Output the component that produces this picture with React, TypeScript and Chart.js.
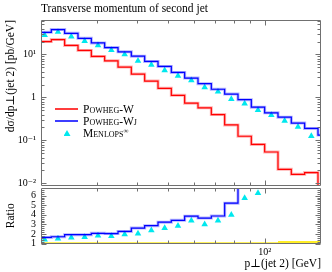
import React, { useEffect, useRef } from 'react';
import { Chart, registerables } from 'chart.js';

Chart.register(...registerables);

// ---- data ----
const BIN_EDGES = [19.57, 21.54, 23.71, 26.1, 28.73, 31.62, 34.81, 38.31, 42.17, 46.42, 51.09, 56.23, 61.9, 68.13, 74.99, 82.54, 90.85, 100.0, 110.07, 121.15, 133.35, 146.78, 161.56];
const POWHEG_W = [20.0, 22.2, 16.2, 12.4, 9.0, 7.11, 5.08, 3.5, 2.41, 1.63, 1.12, 0.734, 0.572, 0.4, 0.23, 0.125, 0.0807, 0.0538, 0.0213, 0.0163, 0.0179, 0];
const POWHEG_WJ = [32.8, 37.9, 31.1, 23.8, 18.6, 14.5, 11.5, 9.14, 6.89, 5.27, 3.83, 2.83, 2.09, 1.55, 1.2, 0.889, 0.593, 0.438, 0.348, 0.253, 0.19, 0.133];
const MENLOPS = [28.4, 33.4, 26.1, 20.6, 16.4, 12.6, 10.0, 7.11, 5.74, 4.26, 3.2, 2.5, 1.72, 1.36, 0.92, 0.718, 0.506, 0.387, 0.286, 0.208, 0.126, 0.1];
const POWHEG_W_RELERR = [0.12, 0.12, 0.12, 0.12, 0.12, 0.12, 0.12, 0.12, 0.12, 0.12, 0.12, 0.12, 0.12, 0.12, 0.12, 0.12, 0.12, 0.12, 0.27, 0.27, 0.27, 0.27];

const Y_TICKS = [0.01, 0.1, 1, 10];
const Y_TICK_LABELS = ['10\u207B\u00B2', '10\u207B\u00B9', '1', '10\u00B9'];
const RATIO_TICKS = [1, 2, 3, 4, 5, 6];
const RATIO_TICK_LABELS = ['1', '2', '3', '4', '5', '6'];
const X_TICKS = [100];
const X_TICK_LABELS = ['10\u00B2'];
const X_MINOR_TICKS = [20, 30, 40, 50, 60, 70, 80, 90];

const TITLE = 'Transverse momentum of second jet';
const Y_TITLE = 'd\u03C3/dp\u22A5(jet 2) [pb/GeV]';
const X_TITLE = 'p\u22A5(jet 2) [GeV]';
const RATIO_TITLE = 'Ratio';

const X_MIN = 20;
const X_MAX = 150;
const Y_MIN = 0.0087;
const Y_MAX = 63.4;
const R_MIN = 1;
const R_MAX = 6.8;

const W = 332;
const H = 272;
const FONT = "'Liberation Serif', 'DejaVu Serif', serif";
const FRAME = '#707070';
const RED = '#ff0000';
const BLUE = '#0000ff';
const CYAN = '#00e8ee';

// ---- helpers to build chart tables ----
function stepPoints(values: (number | null)[], floor = 0) {
  const pts: { x: number; y: number | null }[] = [];
  values.forEach((v, i) => {
    const y = v === null ? null : v > floor ? v : floor > 0 ? floor : v;
    pts.push({ x: BIN_EDGES[i], y });
    pts.push({ x: BIN_EDGES[i + 1], y });
  });
  return pts;
}
function centerPoints(values: (number | null)[]) {
  return values.map((v, i) => ({ x: Math.sqrt(BIN_EDGES[i] * BIN_EDGES[i + 1]), y: v }));
}
const ratio = (num: number[]) => num.map((v, i) => (POWHEG_W[i] > 0 ? v / POWHEG_W[i] : null));

function framePlugin(yMajor: number[], yMinor: number[]) {
  return {
    id: 'frameTicks',
    afterDatasetsDraw(chart: any) {
      const { ctx, chartArea: a } = chart;
      const xs = chart.scales.x;
      const ys = chart.scales.y;
      const L = Math.round(a.left) + 0.5;
      const R = Math.round(a.right) - 0.5;
      const T = Math.round(a.top) + 0.5;
      const B = Math.round(a.bottom) - 0.5;
      ctx.save();
      ctx.strokeStyle = FRAME;
      ctx.lineWidth = 1;
      ctx.beginPath();
      ctx.rect(L, T, R - L, B - T);
      const seg = (x1: number, y1: number, x2: number, y2: number) => {
        ctx.moveTo(x1, y1);
        ctx.lineTo(x2, y2);
      };
      X_MINOR_TICKS.forEach((v) => {
        const x = Math.round(xs.getPixelForValue(v)) + 0.5;
        if (x <= L + 1 || x >= R - 1) return;
        seg(x, T, x, T + 3);
        seg(x, B, x, B - 3);
      });
      X_TICKS.forEach((v) => {
        const x = Math.round(xs.getPixelForValue(v)) + 0.5;
        seg(x, T, x, T + 5);
        seg(x, B, x, B - 5);
      });
      yMajor.forEach((v) => {
        const y = Math.round(ys.getPixelForValue(v)) + 0.5;
        seg(L, y, L + 5, y);
        seg(R, y, R - 5, y);
      });
      yMinor.forEach((v) => {
        const y = Math.round(ys.getPixelForValue(v)) + 0.5;
        if (y <= T || y >= B) return;
        seg(L, y, L + 3, y);
        seg(R, y, R - 3, y);
      });
      ctx.stroke();
      ctx.restore();
    },
  };
}

const mainMinor: number[] = [];
for (let d = -3; d <= 1; d++) for (let m = 2; m <= 9; m++) {
  const v = m * Math.pow(10, d);
  if (v > Y_MIN && v < Y_MAX) mainMinor.push(v);
}
const ratioMinor: number[] = [];
for (let k = 1; k < 30; k++) {
  const v = 1 + k * 0.2;
  if (v < R_MAX && Math.abs(v - Math.round(v)) > 1e-6) ratioMinor.push(v);
}

function lineDs(data: any, color: string, width: number) {
  return {
    data,
    borderColor: color,
    backgroundColor: color,
    borderWidth: width,
    pointRadius: 0,
    fill: false,
    tension: 0,
    clip: 0,
  };
}

export default function App() {
  const mainRef = useRef<HTMLCanvasElement>(null);
  const ratioRef = useRef<HTMLCanvasElement>(null);

  useEffect(() => {
    const main = new Chart(mainRef.current!, {
      type: 'line',
      data: {
        datasets: [
          lineDs(stepPoints(POWHEG_W, 1e-6), 'rgba(255,0,0,0.3)', 3),
          lineDs(stepPoints(POWHEG_W, 1e-6), RED, 1.2),
          lineDs(stepPoints(POWHEG_WJ), 'rgba(0,0,255,0.3)', 3),
          lineDs(stepPoints(POWHEG_WJ), BLUE, 1.2),
          {
            data: centerPoints(MENLOPS),
            showLine: false,
            pointStyle: 'triangle',
            pointRadius: 3.8,
            pointBackgroundColor: CYAN,
            pointBorderWidth: 0,
            borderColor: CYAN,
            clip: 0,
          },
        ] as any,
      },
      options: {
        animation: false,
        responsive: false,
        maintainAspectRatio: false,
        events: [],
        layout: { padding: { left: 0, right: W - 321, top: 20, bottom: H - 186 } },
        plugins: { legend: { display: false }, tooltip: { enabled: false }, title: { display: false } },
        scales: {
          x: { type: 'logarithmic', min: X_MIN, max: X_MAX, display: false },
          y: {
            type: 'logarithmic',
            min: Y_MIN,
            max: Y_MAX,
            afterFit: (s: any) => { s.width = 41; },
            afterBuildTicks: (s: any) => { s.ticks = Y_TICKS.map((value) => ({ value })); },
            ticks: {
              autoSkip: false,
              padding: 5,
              color: '#000',
              font: { family: FONT, size: 10 },
              callback: (v: any) => Y_TICK_LABELS[Y_TICKS.indexOf(Number(v))] ?? '',
            },
            grid: { display: false, drawTicks: false },
            border: { display: false },
            title: {
              display: true,
              text: Y_TITLE,
              align: 'end',
              color: '#000',
              font: { family: FONT, size: 11.5 },
              padding: { top: 4.5, bottom: 0 },
            },
          },
        },
      } as any,
      plugins: [framePlugin(Y_TICKS, mainMinor)],
    });

    const ratioChart = new Chart(ratioRef.current!, {
      type: 'line',
      data: {
        datasets: [
          {
            data: stepPoints(POWHEG_W_RELERR.map((e) => 1 + e)),
            borderWidth: 0,
            pointRadius: 0,
            borderColor: 'rgba(0,0,0,0)',
            backgroundColor: 'rgba(255,235,0,0.85)',
            fill: { value: 1 },
            clip: 0,
          },
          lineDs(stepPoints(POWHEG_W.map((v) => (v > 0 ? 1 : null))), RED, 1),
          lineDs(stepPoints(ratio(POWHEG_WJ)), 'rgba(0,0,255,0.3)', 3),
          lineDs(stepPoints(ratio(POWHEG_WJ)), BLUE, 1.2),
          {
            data: centerPoints(ratio(MENLOPS)),
            showLine: false,
            pointStyle: 'triangle',
            pointRadius: 3.8,
            pointBackgroundColor: CYAN,
            pointBorderWidth: 0,
            borderColor: CYAN,
            clip: 0,
          },
        ] as any,
      },
      options: {
        animation: false,
        responsive: false,
        maintainAspectRatio: false,
        events: [],
        layout: { padding: { left: 0, right: W - 321, top: 188, bottom: 0 } },
        plugins: { legend: { display: false }, tooltip: { enabled: false } },
        scales: {
          x: {
            type: 'logarithmic',
            min: X_MIN,
            max: X_MAX,
            afterFit: (s: any) => { s.height = H - 243.5; },
            afterBuildTicks: (s: any) => { s.ticks = X_TICKS.map((value) => ({ value })); },
            ticks: {
              autoSkip: false,
              maxRotation: 0,
              padding: 3,
              color: '#000',
              font: { family: FONT, size: 10 },
              callback: (v: any) => X_TICK_LABELS[X_TICKS.indexOf(Number(v))] ?? '',
            },
            grid: { display: false, drawTicks: false },
            border: { display: false },
            title: {
              display: true,
              text: X_TITLE,
              align: 'end',
              color: '#000',
              font: { family: FONT, size: 11.5 },
              padding: { top: 0, bottom: 1 },
            },
          },
          y: {
            min: R_MIN,
            max: R_MAX,
            afterFit: (s: any) => { s.width = 41; },
            afterBuildTicks: (s: any) => { s.ticks = RATIO_TICKS.map((value) => ({ value })); },
            ticks: {
              autoSkip: false,
              padding: 5,
              color: '#000',
              font: { family: FONT, size: 10 },
              callback: (v: any) => RATIO_TICK_LABELS[RATIO_TICKS.indexOf(Number(v))] ?? '',
            },
            grid: { display: false, drawTicks: false },
            border: { display: false },
            title: {
              display: true,
              text: RATIO_TITLE,
              align: 'center',
              color: '#000',
              font: { family: FONT, size: 11.5 },
              padding: { top: 4.5, bottom: 0 },
            },
          },
        },
      } as any,
      plugins: [framePlugin(RATIO_TICKS, ratioMinor)],
    });

    return () => {
      main.destroy();
      ratioChart.destroy();
    };
  }, []);

  const legendText: React.CSSProperties = {
    position: 'absolute',
    left: 83,
    fontFamily: FONT,
    fontSize: 11.5,
    fontVariant: 'small-caps',
    lineHeight: '12px',
    color: '#000',
    whiteSpace: 'nowrap',
  };
  const legendLine = (top: number, color: string): React.CSSProperties => ({
    position: 'absolute',
    left: 55,
    top,
    width: 23,
    height: 2,
    background: color,
  });

  return (
    <div style={{ position: 'fixed', left: 0, top: 0, width: W, height: H, background: '#fff', overflow: 'hidden' }}>
      <canvas ref={mainRef} width={W} height={H} style={{ position: 'absolute', left: 0, top: 0, width: W, height: H }} />
      <canvas ref={ratioRef} width={W} height={H} style={{ position: 'absolute', left: 0, top: 0, width: W, height: H }} />
      <div style={{ position: 'absolute', left: 41, top: 2, fontFamily: FONT, fontSize: 11.5, lineHeight: '12px', color: '#000', whiteSpace: 'nowrap' }}>
        {TITLE}
      </div>
      <div style={legendLine(108, 'rgba(255,40,40,0.9)')} />
      <div style={legendLine(120, 'rgba(40,40,255,0.9)')} />
      <div
        style={{
          position: 'absolute',
          left: 63.5,
          top: 130,
          width: 7,
          height: 6,
          background: CYAN,
          clipPath: 'polygon(50% 0, 100% 100%, 0 100%)',
        }}
      />
      <div style={{ ...legendText, top: 103 }}>Powheg-W</div>
      <div style={{ ...legendText, top: 115 }}>Powheg-Wj</div>
      <div style={{ ...legendText, top: 127 }}>
        Menlops<sup style={{ fontSize: 7, verticalAlign: 'top', lineHeight: '8px' }}>{'\u221E'}</sup>
      </div>
    </div>
  );
}
